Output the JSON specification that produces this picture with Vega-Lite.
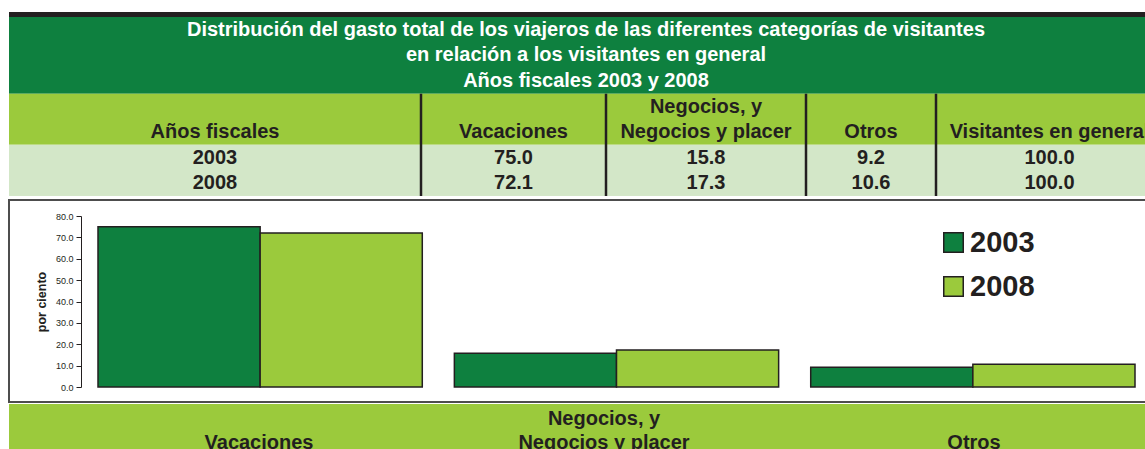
{
  "$schema": "https://vega.github.io/schema/vega-lite/v6.json",
  "background": "white",
  "padding": {"left": 8, "top": 12, "right": 0, "bottom": 0},
  "config": {"view": {"stroke": null}, "font": "Liberation Sans"},
  "spacing": 1,
  "resolve": {"scale": {"x": "independent", "y": "independent", "color": "independent"}},
  "vconcat": [
    {
      "width": 1137,
      "height": 186,
      "layer": [
        {
          "data": {"values": [
            {"zone": "topbar", "c0": 0, "c1": 5, "r0": 0, "r1": 1},
            {"zone": "title", "c0": 0, "c1": 5, "r0": 1, "r1": 4},
            {"zone": "header", "c0": 0, "c1": 5, "r0": 4, "r1": 6},
            {"zone": "body", "c0": 0, "c1": 5, "r0": 6, "r1": 8}
          ]},
          "mark": {"type": "rect", "clip": true},
          "encoding": {
            "x": {"field": "c0", "type": "quantitative", "scale": {"domain": [0, 1, 2, 3, 4, 5], "range": [0, 412, 597, 797, 927, 1154], "zero": false, "nice": false}, "axis": null},
            "x2": {"field": "c1"},
            "y": {"field": "r0", "type": "quantitative", "scale": {"domain": [0, 1, 8], "range": [0, 5, 184], "zero": false, "nice": false}, "axis": null},
            "y2": {"field": "r1"},
            "color": {"field": "zone", "type": "nominal", "scale": {"domain": ["topbar", "title", "header", "body"], "range": ["#231F20", "#0E803F", "#9BCA3C", "#D3E7C8"]}, "legend": null}
          }
        },
        {
          "data": {"values": [{"b": 1, "top": 4, "bottom": 8}, {"b": 2, "top": 4, "bottom": 8}, {"b": 3, "top": 4, "bottom": 8}, {"b": 4, "top": 4, "bottom": 8}]},
          "mark": {"type": "rule", "stroke": "#231F20", "strokeWidth": 2.5},
          "encoding": {
            "x": {"field": "b", "type": "quantitative"},
            "y": {"field": "top", "type": "quantitative"},
            "y2": {"field": "bottom"}
          }
        },
        {
          "data": {"values": [
            {"t": "Años fiscales", "col": 0.5, "row": 5.5},
            {"t": "Vacaciones", "col": 1.5, "row": 5.5},
            {"t": "Negocios, y", "col": 2.5, "row": 4.5},
            {"t": "Negocios y placer", "col": 2.5, "row": 5.5},
            {"t": "Otros", "col": 3.5, "row": 5.5},
            {"t": "Visitantes en general", "col": 4.5, "row": 5.5},
            {"t": "2003", "col": 0.5, "row": 6.5},
            {"t": "75.0", "col": 1.5, "row": 6.5},
            {"t": "15.8", "col": 2.5, "row": 6.5},
            {"t": "9.2", "col": 3.5, "row": 6.5},
            {"t": "100.0", "col": 4.5, "row": 6.5},
            {"t": "2008", "col": 0.5, "row": 7.5},
            {"t": "72.1", "col": 1.5, "row": 7.5},
            {"t": "17.3", "col": 2.5, "row": 7.5},
            {"t": "10.6", "col": 3.5, "row": 7.5},
            {"t": "100.0", "col": 4.5, "row": 7.5}
          ]},
          "mark": {"type": "text", "font": "Liberation Sans", "fontSize": 20, "fontWeight": "bold", "color": "#231F20", "baseline": "middle", "align": "center", "clip": true},
          "encoding": {
            "x": {"field": "col", "type": "quantitative"},
            "y": {"field": "row", "type": "quantitative"},
            "text": {"field": "t"}
          }
        },
        {
          "data": {"values": [
            {"t": "Distribución del gasto total de los viajeros de las diferentes categorías de visitantes", "row": 1.5},
            {"t": "en relación a los visitantes en general", "row": 2.5},
            {"t": "Años fiscales 2003 y 2008", "row": 3.5}
          ]},
          "mark": {"type": "text", "font": "Liberation Sans", "fontSize": 20, "fontWeight": "bold", "color": "white", "baseline": "middle", "align": "center", "dx": 8.5},
          "encoding": {
            "y": {"field": "row", "type": "quantitative"},
            "text": {"field": "t"}
          }
        }
      ]
    },
    {
      "width": 1137,
      "height": 202,
      "view": {"stroke": "#4D4D4D", "strokeWidth": 2},
      "data": {"values": [
        {"cat": "Vacaciones", "year": "2003", "value": 75.0},
        {"cat": "Vacaciones", "year": "2008", "value": 72.1},
        {"cat": "Negocios, y Negocios y placer", "year": "2003", "value": 15.8},
        {"cat": "Negocios, y Negocios y placer", "year": "2008", "value": 17.3},
        {"cat": "Otros", "year": "2003", "value": 9.2},
        {"cat": "Otros", "year": "2008", "value": 10.6}
      ]},
      "mark": {"type": "bar", "stroke": "#231F20", "strokeWidth": 1.5},
      "encoding": {
        "x": {"field": "cat", "type": "nominal", "sort": ["Vacaciones", "Negocios, y Negocios y placer", "Otros"], "scale": {"range": [89, 1126], "paddingInner": 0.09, "paddingOuter": 0}, "axis": null},
        "xOffset": {"field": "year", "type": "nominal", "scale": {"paddingInner": 0, "paddingOuter": 0}},
        "y": {
          "field": "value", "type": "quantitative", "stack": null,
          "scale": {"domain": [0, 80], "range": [187, 16], "nice": false, "zero": true},
          "axis": {
            "orient": "left", "offset": -72, "values": [0, 10, 20, 30, 40, 50, 60, 70, 80], "format": ".1f",
            "labelFontSize": 9, "labelColor": "#231F20", "labelFont": "Liberation Sans", "labelPadding": 3,
            "tickSize": 5, "tickColor": "#231F20", "tickWidth": 1, "domainColor": "#231F20", "domainWidth": 1, "grid": false,
            "title": "por ciento", "titleFontSize": 12.5, "titleFontWeight": "bold", "titleColor": "#231F20", "titleFont": "Liberation Sans", "titlePadding": 7
          }
        },
        "color": {
          "field": "year", "type": "nominal",
          "scale": {"domain": ["2003", "2008"], "range": ["#0E803F", "#9BCA3C"]},
          "legend": {
            "title": null, "orient": "none", "legendX": 930, "legendY": 28,
            "symbolType": "square", "symbolSize": 380, "symbolStrokeColor": "#231F20", "symbolStrokeWidth": 1.5,
            "labelFontSize": 29, "labelFontWeight": "bold", "labelColor": "#231F20", "labelFont": "Liberation Sans",
            "rowPadding": 14, "labelOffset": 2, "padding": 0
          }
        }
      }
    },
    {
      "width": 1137,
      "height": 47,
      "view": {"fill": "#9BCA3C", "stroke": null},
      "data": {"values": [
        {"t": "Vacaciones", "col": 0.5, "row": 1.5},
        {"t": "Negocios, y", "col": 1.5, "row": 0.5},
        {"t": "Negocios y placer", "col": 1.5, "row": 1.5},
        {"t": "Otros", "col": 2.5, "row": 1.5}
      ]},
      "mark": {"type": "text", "font": "Liberation Sans", "fontSize": 20, "fontWeight": "bold", "color": "#231F20", "baseline": "middle", "align": "center", "clip": true},
      "encoding": {
        "x": {"field": "col", "type": "quantitative", "scale": {"domain": [0, 1, 2, 3], "range": [0, 500, 690, 1240], "zero": false, "nice": false}, "axis": null},
        "y": {"field": "row", "type": "quantitative", "scale": {"domain": [0, 2], "range": [3, 51], "zero": false, "nice": false}, "axis": null},
        "text": {"field": "t"}
      }
    }
  ]
}
